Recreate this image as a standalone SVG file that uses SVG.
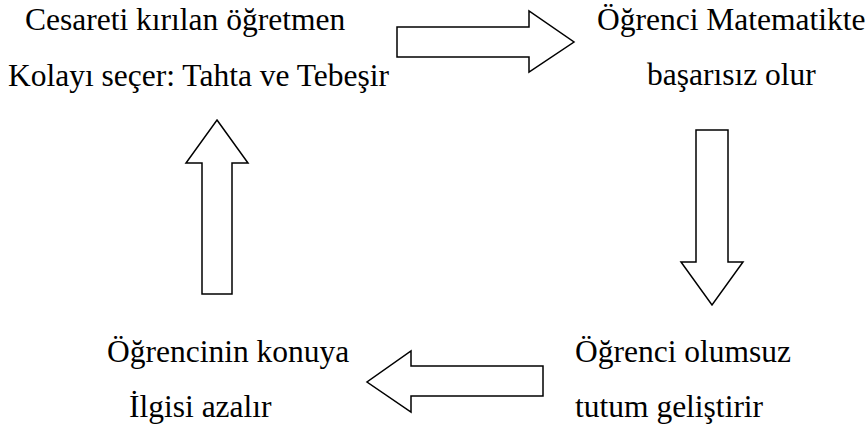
<svg xmlns="http://www.w3.org/2000/svg" width="866" height="425" viewBox="0 0 866 425">
<style>
.arrow { fill: #fff; stroke: #000; stroke-width: 1.5; stroke-linejoin: miter; }
</style>
<rect width="866" height="425" fill="#fff"/>
<g font-family="Liberation Serif, serif" font-size="31.5" fill="#000">
<g id="node-teacher">
<text x="25" y="30">Cesareti kırılan öğretmen</text>
<text x="8" y="86">Kolayı seçer: Tahta ve Tebeşir</text>
</g>
<g id="node-fail">
<text x="597" y="30">Öğrenci Matematikte</text>
<text x="647" y="85">başarısız olur</text>
</g>
<g id="node-attitude">
<text x="575" y="362">Öğrenci olumsuz</text>
<text x="575" y="417">tutum geliştirir</text>
</g>
<g id="node-interest">
<text x="107" y="362">Öğrencinin konuya</text>
<text x="129" y="417">İlgisi azalır</text>
</g>
</g>
<g id="connectors">
<polygon class="arrow" points="397,27 529,27 529,11 574,42 529,72 529,57 397,57"/>
<polygon class="arrow" points="696,130 728,130 728,262 743,262 712,305 681,262 696,262"/>
<polygon class="arrow" points="543,366 411,366 411,351 367,382 411,412 411,396 543,396"/>
<polygon class="arrow" points="217,120 248,163 232,163 232,294 202,294 202,163 186,163"/>
</g>
</svg>
